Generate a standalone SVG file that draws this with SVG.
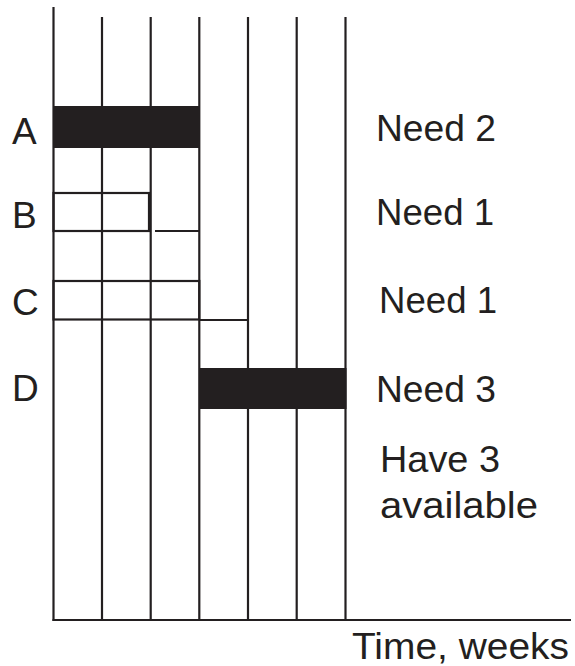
<svg xmlns="http://www.w3.org/2000/svg" width="575" height="666" viewBox="0 0 575 666">
<style>
.ln{stroke:#231f20;stroke-width:2.2;fill:none}
.bar{fill:#231f20;stroke:#231f20;stroke-width:2}
.t{font-family:"Liberation Sans",Arial,sans-serif;font-size:37px;fill:#231f20}
</style>
<rect width="575" height="666" fill="#fff"/>
<g id="grid">
<line class="ln" x1="53.5" y1="7" x2="53.5" y2="621"/>
<line class="ln" x1="102" y1="17" x2="102" y2="621"/>
<line class="ln" x1="150.7" y1="17" x2="150.7" y2="621"/>
<line class="ln" x1="199.3" y1="17" x2="199.3" y2="621"/>
<line class="ln" x1="248" y1="17" x2="248" y2="621"/>
<line class="ln" x1="296.7" y1="17" x2="296.7" y2="621"/>
<line class="ln" x1="345.5" y1="17" x2="345.5" y2="621"/>
<line class="ln" x1="52.5" y1="620" x2="571" y2="620"/>
</g>
<g id="A">
<rect class="bar" x="54" y="107" width="145" height="40"/>
<text class="t" x="12" y="144">A</text>
<text class="t" x="376" y="141" textLength="120" lengthAdjust="spacingAndGlyphs">Need 2</text>
</g>
<g id="B">
<rect class="ln" x="53.5" y="193" width="95.5" height="38"/>
<line class="ln" x1="155" y1="231" x2="199" y2="231"/>
<text class="t" x="12" y="228">B</text>
<text class="t" x="376" y="225" textLength="118" lengthAdjust="spacingAndGlyphs">Need 1</text>
</g>
<g id="C">
<rect class="ln" x="53.5" y="281" width="145.8" height="38.5"/>
<line class="ln" x1="199.3" y1="320" x2="247" y2="320"/>
<text class="t" x="12" y="315">C</text>
<text class="t" x="379" y="313" textLength="118" lengthAdjust="spacingAndGlyphs">Need 1</text>
</g>
<g id="D">
<rect class="bar" x="200" y="369" width="145.5" height="39"/>
<text class="t" x="12" y="401">D</text>
<text class="t" x="376" y="402" textLength="120" lengthAdjust="spacingAndGlyphs">Need 3</text>
</g>
<g id="notes">
<text class="t" x="380" y="472" textLength="120" lengthAdjust="spacingAndGlyphs">Have 3</text>
<text class="t" x="380" y="518" textLength="158" lengthAdjust="spacingAndGlyphs">available</text>
<text class="t" x="352" y="659" textLength="217" lengthAdjust="spacingAndGlyphs">Time, weeks</text>
</g>
</svg>
